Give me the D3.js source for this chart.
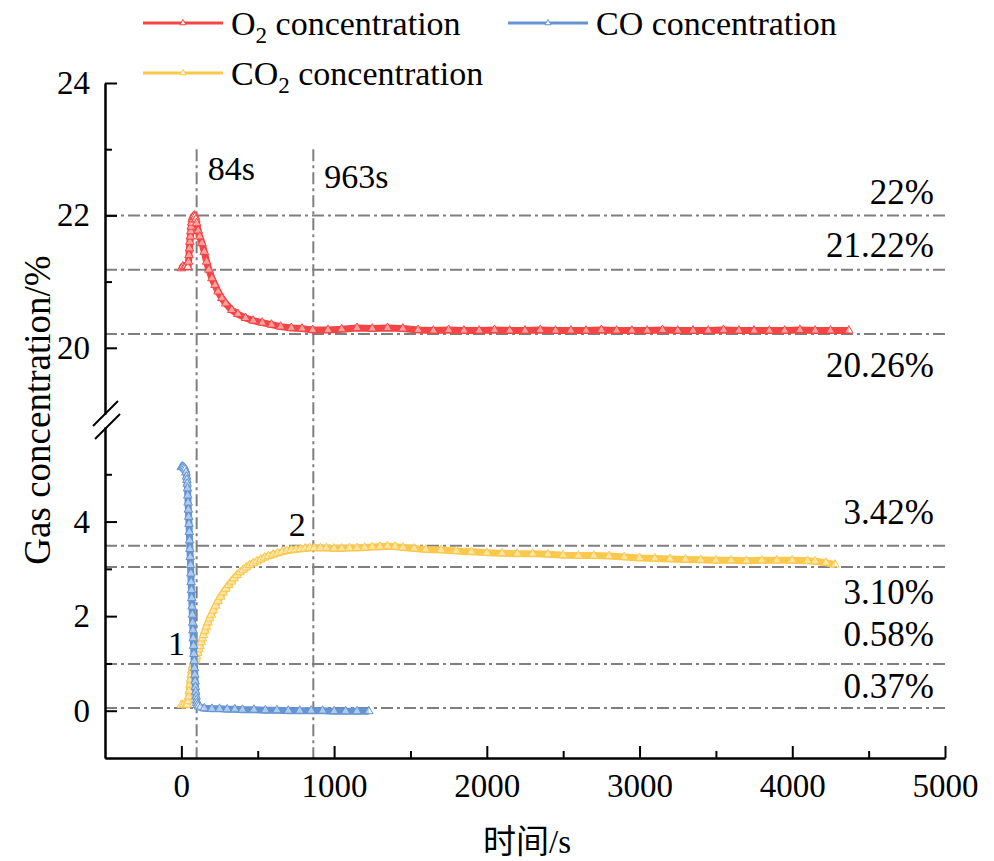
<!DOCTYPE html>
<html>
<head>
<meta charset="utf-8">
<script src="https://cdn.jsdelivr.net/npm/d3@7"></script>
<style>
	body { margin: 0; background: #fff; }
	text { font-family: "Liberation Serif", "Times New Roman", serif; fill: #000; }
</style>
</head>
<body>
<div id="chart"></div>
<script>
//gas concentration chart, broken y axis

//data: [time s, concentration %]
var o2Data = [[0,21.2],[10,21.23],[20,21.22],[30,21.23],[40,21.22],[44,21.22],[47,21.3],[50,21.4],[53,21.5],[56,21.6],[59,21.68],[62,21.76],[65,21.83],[68,21.89],[71,21.94],[75,21.97],[80,21.99],[85,22.0],[90,21.98],[95,21.94],[100,21.88],[110,21.77],[120,21.68],[135,21.58],[150,21.45],[165,21.3],[180,21.18],[200,21.05],[220,20.95],[240,20.85],[265,20.75],[290,20.67],[330,20.57],[370,20.51],[420,20.45],[470,20.41],[530,20.38],[590,20.35],[650,20.32],[720,20.3],[790,20.29],[860,20.27],[960,20.27],[1050,20.28],[1150,20.3],[1250,20.29],[1350,20.3],[1450,20.29],[1550,20.27],[1650,20.26],[1750,20.27],[1850,20.26],[1950,20.26],[2050,20.27],[2150,20.26],[2250,20.26],[2350,20.27],[2450,20.26],[2550,20.26],[2650,20.26],[2750,20.27],[2850,20.26],[2950,20.26],[3050,20.26],[3150,20.27],[3250,20.26],[3350,20.26],[3450,20.26],[3550,20.27],[3650,20.26],[3750,20.26],[3850,20.26],[3950,20.26],[4050,20.27],[4150,20.26],[4250,20.26],[4370,20.26]];

var coData = [[0,5.15],[5,5.16],[10,5.16],[15,5.15],[20,5.13],[25,5.1],[30,5.04],[34,4.95],[36,4.88],[38,4.8],[40,4.7],[42,4.55],[44,4.4],[46,4.25],[48,4.1],[50,3.95],[52,3.78],[54,3.6],[56,3.42],[58,3.25],[60,3.08],[62,2.9],[64,2.72],[66,2.55],[68,2.38],[70,2.2],[72,2.03],[74,1.86],[76,1.7],[78,1.53],[80,1.37],[82,1.2],[84,1.05],[86,0.9],[88,0.76],[90,0.62],[92,0.5],[94,0.4],[96,0.3],[98,0.22],[100,0.16],[105,0.12],[112,0.09],[125,0.07],[150,0.05],[200,0.04],[250,0.04],[300,0.03],[350,0.03],[400,0.02],[475,0.02],[550,0.01],[625,0.01],[700,0.0],[775,0.0],[850,0.0],[925,0.0],[1000,-0.01],[1075,-0.01],[1150,-0.01],[1227,-0.01]];

var co2Data = [[0,0.12],[10,0.12],[20,0.13],[30,0.12],[40,0.13],[44,0.2],[48,0.3],[52,0.42],[56,0.55],[60,0.66],[64,0.76],[68,0.85],[72,0.92],[76,0.97],[80,1.0],[85,1.03],[90,1.06],[95,1.1],[100,1.15],[108,1.22],[115,1.3],[122,1.37],[130,1.45],[138,1.53],[145,1.6],[155,1.69],[165,1.78],[175,1.87],[185,1.95],[197,2.03],[210,2.12],[225,2.22],[240,2.32],[257,2.41],[275,2.5],[292,2.58],[310,2.66],[328,2.73],[345,2.8],[365,2.87],[385,2.93],[405,2.98],[425,3.03],[447,3.08],[470,3.12],[495,3.16],[520,3.2],[545,3.24],[570,3.27],[600,3.3],[630,3.33],[660,3.36],[690,3.38],[720,3.4],[750,3.41],[780,3.42],[810,3.43],[840,3.44],[870,3.44],[910,3.44],[950,3.44],[1000,3.43],[1050,3.43],[1100,3.44],[1150,3.44],[1200,3.45],[1250,3.46],[1300,3.47],[1350,3.48],[1400,3.47],[1450,3.45],[1525,3.43],[1600,3.41],[1700,3.4],[1800,3.38],[1900,3.36],[2000,3.34],[2100,3.33],[2200,3.32],[2300,3.32],[2400,3.31],[2500,3.29],[2600,3.28],[2700,3.28],[2800,3.27],[2900,3.25],[3000,3.23],[3100,3.22],[3200,3.21],[3300,3.2],[3400,3.19],[3500,3.18],[3600,3.18],[3700,3.17],[3800,3.18],[3900,3.18],[4000,3.18],[4100,3.17],[4150,3.16],[4220,3.13],[4280,3.09]];

//reference levels (where the dash-dot lines sit) and their labels
var upperLevels = [22, 21.18, 20.21];
var upperLabels = ['22%', '21.22%', '20.26%'];
var lowerLevels = [3.49, 3.04, 0.99, 0.06];
var lowerLabels = ['3.42%', '3.10%', '0.58%', '0.37%'];

//vertical time marks
var markTimes = [100, 864];
var markLabels = ['84s', '963s'];

//numbered points on the CO2 curve
var pointTimes = [80, 870];
var pointLabels = ['1', '2'];

//ticks
var xTicks = [0, 1000, 2000, 3000, 4000, 5000];
var xMinor = [500, 1500, 2500, 3500, 4500];
var yUpperTicks = [20, 22, 24];
var yUpperMinor = [21, 23];
var yLowerTicks = [0, 2, 4];
var yLowerMinor = [1, 3, 5];

var seriesNames = ['O2', 'CO', 'CO2'];
var seriesColors = ['#f54444', '#6494d2', '#fac84b'];

var width = 994, height = 861;
var serif = '"Liberation Serif", "Times New Roman", serif';

var svg = d3.select('#chart').append('svg')
	.attr('width', width)
	.attr('height', height);

//scales: one x, two y segments for the broken axis
var x = d3.scaleLinear().domain([-500, 5000]).range([105, 945]);
var yTop = d3.scaleLinear().domain([19, 24]).range([414, 83]);
var yBot = d3.scaleLinear().domain([-1, 6]).range([758, 427]);

var dashDot = '12,4,3,4';
var refColor = '#7f7f7f';

//horizontal reference lines
var refs = upperLevels.map(function(v, i) { return { y: yTop(v), label: upperLabels[i] }; })
	.concat(lowerLevels.map(function(v, i) { return { y: yBot(v), label: lowerLabels[i] }; }));

svg.append('g').selectAll('line')
	.data(refs)
	.enter().append('line')
	.attr('x1', x(-500))
	.attr('x2', x(5000))
	.attr('y1', function(d) { return d.y; })
	.attr('y2', function(d) { return d.y; })
	.style('stroke', refColor)
	.style('stroke-width', 2)
	.style('stroke-dasharray', dashDot);

//vertical reference lines
svg.append('g').selectAll('line')
	.data(markTimes)
	.enter().append('line')
	.attr('x1', function(d) { return x(d); })
	.attr('x2', function(d) { return x(d); })
	.attr('y1', yTop(23))
	.attr('y2', yBot(-1))
	.style('stroke', refColor)
	.style('stroke-width', 2)
	.style('stroke-dasharray', dashDot);

//curves
var triangle = d3.symbol().type(d3.symbolTriangle).size(32);

function addSeries(data, yScale, color) {
	var line = d3.line()
		.x(function(d) { return x(d[0]); })
		.y(function(d) { return yScale(d[1]); });

	var g = svg.append('g');
	g.append('path')
		.datum(data)
		.attr('d', line)
		.style('fill', 'none')
		.style('stroke', color)
		.style('stroke-width', 7)
		.style('stroke-linejoin', 'round');

	g.selectAll('path.pt')
		.data(data)
		.enter().append('path')
		.attr('class', 'pt')
		.attr('d', triangle)
		.attr('transform', function(d) { return 'translate(' + x(d[0]) + ',' + yScale(d[1]) + ')'; })
		.style('fill', '#fff')
		.style('fill-opacity', 0.5)
		.style('stroke', color)
		.style('stroke-width', 1);
}

addSeries(o2Data, yTop, seriesColors[0]);
addSeries(co2Data, yBot, seriesColors[2]);
addSeries(coData, yBot, seriesColors[1]);

//axes
var axisFont = 33;
var fmt = d3.format('d');

function styleAxis(g) {
	g.selectAll('path').style('stroke', '#000').style('stroke-width', 2);
	g.selectAll('line').style('stroke', '#000').style('stroke-width', 2);
	g.selectAll('text')
		.style('font-family', serif)
		.style('font-size', axisFont + 'px')
		.style('fill', '#000');
}

svg.append('g')
	.attr('transform', 'translate(0,' + yBot(-1) + ')')
	.call(d3.axisBottom(x).tickValues(xTicks).tickFormat(fmt).tickSizeInner(-12).tickSizeOuter(0).tickPadding(16))
	.call(styleAxis);

svg.append('g')
	.attr('transform', 'translate(0,' + yBot(-1) + ')')
	.call(d3.axisBottom(x).tickValues(xMinor).tickSizeInner(-7).tickSizeOuter(0).tickFormat(''))
	.call(styleAxis);

svg.append('g')
	.attr('transform', 'translate(' + x(-500) + ',0)')
	.call(d3.axisLeft(yTop).tickValues(yUpperTicks).tickFormat(fmt).tickSizeInner(-12).tickSizeOuter(0).tickPadding(15))
	.call(styleAxis);

svg.append('g')
	.attr('transform', 'translate(' + x(-500) + ',0)')
	.call(d3.axisLeft(yTop).tickValues(yUpperMinor).tickSizeInner(-7).tickSizeOuter(0).tickFormat(''))
	.call(styleAxis);

svg.append('g')
	.attr('transform', 'translate(' + x(-500) + ',0)')
	.call(d3.axisLeft(yBot).tickValues(yLowerTicks).tickFormat(fmt).tickSizeInner(-12).tickSizeOuter(0).tickPadding(15))
	.call(styleAxis);

svg.append('g')
	.attr('transform', 'translate(' + x(-500) + ',0)')
	.call(d3.axisLeft(yBot).tickValues(yLowerMinor).tickSizeInner(-7).tickSizeOuter(0).tickFormat(''))
	.call(styleAxis);

//break marks on the y axis
var bx = x(-500);
[yTop.range()[0], yBot.range()[1]].forEach(function(by, i) {
	svg.append('line')
		.attr('x1', bx - 12 + i * 2)
		.attr('y1', by + 12)
		.attr('x2', bx + 13 + i * 2)
		.attr('y2', by - 13)
		.style('stroke', '#000')
		.style('stroke-width', 2);
});

//axis titles
svg.append('text')
	.attr('transform', 'translate(50,410) rotate(-90)')
	.attr('text-anchor', 'middle')
	.style('font-family', serif)
	.style('font-size', '37px')
	.text('Gas concentration/%');

svg.append('text')
	.attr('x', 527)
	.attr('y', 853)
	.attr('text-anchor', 'middle')
	.style('font-family', '"Liberation Serif", "Noto Sans CJK SC", serif')
	.style('font-size', '33px')
	.text('时间/s');

//reference labels, right aligned; above or below their line
var labelOffsets = [-11, -13, 43, -22, 37, -18, -10];
svg.append('g').selectAll('text')
	.data(refs)
	.enter().append('text')
	.attr('x', 934)
	.attr('y', function(d, i) { return d.y + labelOffsets[i]; })
	.attr('text-anchor', 'end')
	.style('font-family', serif)
	.style('font-size', '35px')
	.text(function(d) { return d.label; });

//time mark labels
svg.append('g').selectAll('text')
	.data(markTimes)
	.enter().append('text')
	.attr('x', function(d) { return x(d) + 11; })
	.attr('y', function(d, i) { return i ? 188 : 180; })
	.style('font-family', serif)
	.style('font-size', '34px')
	.text(function(d, i) { return markLabels[i]; });

//numbered points
var byTime = d3.bisector(function(d) { return d[0]; }).left;
svg.append('g').selectAll('text')
	.data(pointTimes)
	.enter().append('text')
	.attr('x', function(d) { return x(d) - (d < 500 ? 17 : 17); })
	.attr('y', function(d) {
		var p = co2Data[Math.min(byTime(co2Data, d), co2Data.length - 1)];
		return yBot(p[1]) - (d < 500 ? 8 : 12);
	})
	.attr('text-anchor', 'middle')
	.style('font-family', serif)
	.style('font-size', '34px')
	.text(function(d, i) { return pointLabels[i]; });

//legend
var legendItems = [
	{ name: seriesNames[0], color: seriesColors[0], x: 143, y: 23 },
	{ name: seriesNames[1], color: seriesColors[1], x: 508, y: 23 },
	{ name: seriesNames[2], color: seriesColors[2], x: 143, y: 73 }
];

var legend = svg.append('g').selectAll('g')
	.data(legendItems)
	.enter().append('g')
	.attr('transform', function(d) { return 'translate(' + d.x + ',' + d.y + ')'; });

legend.append('line')
	.attr('x1', 0).attr('x2', 80)
	.style('stroke', function(d) { return d.color; })
	.style('stroke-width', 3);

legend.append('path')
	.attr('d', d3.symbol().type(d3.symbolTriangle).size(16))
	.attr('transform', 'translate(40,0)')
	.style('fill', '#fff')
	.style('stroke', function(d) { return d.color; })
	.style('stroke-width', 1);

var legendText = legend.append('text')
	.attr('x', 88)
	.attr('y', 12)
	.style('font-family', serif)
	.style('font-size', '34px');

legendText.each(function(d) {
	var t = d3.select(this);
	var m = d.name.match(/^([A-Z]+?)(\d?)$/);
	t.append('tspan').text(m[1]);
	if (m[2]) {
		t.append('tspan').attr('dy', 8).style('font-size', '23px').text(m[2]);
		t.append('tspan').attr('dy', -8).text(' concentration');
	} else {
		t.append('tspan').text(' concentration');
	}
});
</script>
</body>
</html>
